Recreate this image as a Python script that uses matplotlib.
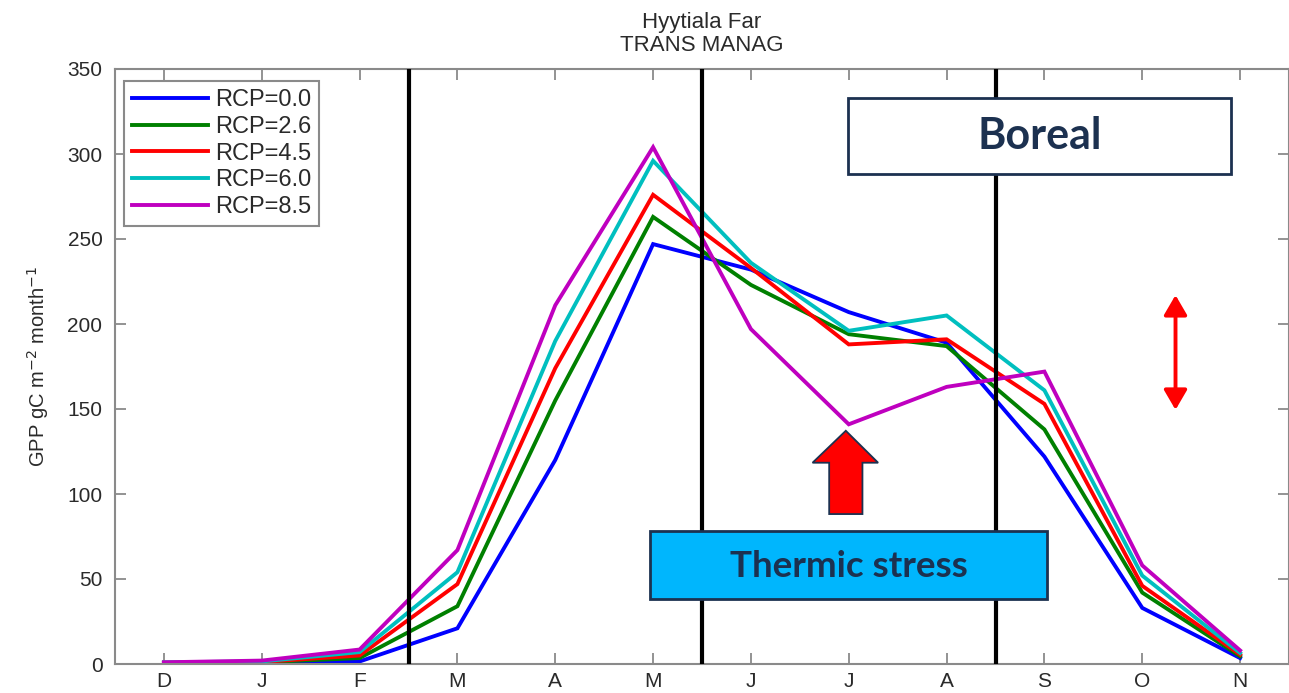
import matplotlib
matplotlib.use("Agg")
import matplotlib.pyplot as plt
from matplotlib.patches import Rectangle, Polygon, FancyArrowPatch

# Monthly GPP (gC m-2 month-1), hydrological year starting in December
months = ["D", "J", "F", "M", "A", "M", "J", "J", "A", "S", "O", "N"]
rcp_labels = ["RCP=0.0", "RCP=2.6", "RCP=4.5", "RCP=6.0", "RCP=8.5"]
gpp_rcp00 = [0.5, 0.5, 1.5, 21, 120, 247, 232, 207, 189, 122, 33, 3.5]
gpp_rcp26 = [0.5, 1.0, 3.5, 34, 155, 263, 223, 194, 187, 138, 42, 4.5]
gpp_rcp45 = [0.8, 1.2, 5.0, 47, 174, 276, 233, 188, 191, 153, 46, 5.5]
gpp_rcp60 = [1.0, 1.5, 7.0, 54, 190, 296, 236, 196, 205, 161, 52, 6.5]
gpp_rcp85 = [1.0, 2.0, 8.5, 67, 211, 304, 197, 141, 163, 172, 58, 8.0]
season_bounds = [3.5, 6.5, 9.5]

series = [gpp_rcp00, gpp_rcp26, gpp_rcp45, gpp_rcp60, gpp_rcp85]
colors = ["#0000ff", "#008000", "#ff0000", "#00bfbf", "#bf00bf"]

plt.rcParams["font.family"] = ["Liberation Sans", "DejaVu Sans"]
text_col = "#2a2a2a"
axis_col = "#8a8a8a"
navy = "#1c3150"

fig = plt.figure(figsize=(12.89, 6.93), dpi=100)
ax = fig.add_axes([115 / 1289, 29 / 693, (1289 - 115) / 1289, 595 / 693])

x = list(range(1, len(months) + 1))
for vals, c, lab in zip(series, colors, rcp_labels):
    ax.plot(x, vals, color=c, lw=2.8, label=lab, solid_joinstyle="miter")

for xb in season_bounds:
    ax.axvline(xb, color="black", lw=3.0, zorder=3)

ax.set_xlim(0.5, 12.5)
ax.set_ylim(0, 350)
ax.set_xticks(x)
ax.set_xticklabels(months)
ax.set_yticks(range(0, 351, 50))

for s in ax.spines.values():
    s.set_color(axis_col)
    s.set_linewidth(1.5)
ax.tick_params(axis="both", direction="in", length=8, width=1.3, color=axis_col,
               labelsize=15, labelcolor=text_col, top=True, right=True)
ax.tick_params(axis="x", pad=6)
ax.tick_params(axis="y", pad=9)

ax.set_ylabel(r"GPP gC m$^{-2}$ month$^{-1}$", fontsize=14.5, color=text_col, labelpad=12)
ax.set_title("Hyytiala Far\nTRANS MANAG", fontsize=16, color=text_col, pad=13,
             linespacing=1.15)

leg = ax.legend(loc="upper left", bbox_to_anchor=(0.0077, 0.98), borderaxespad=0,
                fontsize=17, handlelength=3.2, handletextpad=0.3, labelspacing=0.2,
                borderpad=0.35, fancybox=False, framealpha=1, edgecolor=axis_col)
leg.get_frame().set_linewidth(1.5)
for t in leg.get_texts():
    t.set_color(text_col)

# "Boreal" label box
ax.add_patch(Rectangle((7.99, 288), 3.92, 45, facecolor="white", edgecolor=navy,
                       lw=2.0, zorder=5))
ax.text(9.95, 310.5, "Boreal", fontsize=31, fontweight="bold", color=navy,
        family=["Lato", "DejaVu Sans"], ha="center", va="center", zorder=6)

# "Thermic stress" label box
ax.add_patch(Rectangle((5.965, 38.2), 4.065, 40, facecolor="#00b6fd", edgecolor=navy,
                       lw=2.0, zorder=5))
ax.text(8.0, 57.5, "Thermic stress", fontsize=26.5, fontweight="bold", color=navy,
        family=["Lato", "DejaVu Sans"], ha="center", va="center", zorder=6)

# Red block arrow pointing at the July dip
arrow_pts = [(7.80, 88.2), (8.14, 88.2), (8.14, 118.4), (8.30, 118.4),
             (7.97, 137.2), (7.63, 118.4), (7.80, 118.4)]
ax.add_patch(Polygon(arrow_pts, closed=True, facecolor="#ff0000", edgecolor=navy,
                     lw=1.3, zorder=5))

# Double-headed red arrow showing the spread
ax.add_patch(FancyArrowPatch((11.34, 149.5), (11.34, 217),
                             arrowstyle="<|-|>,head_length=0.6,head_width=0.35",
                             mutation_scale=20, color="#ff0000", lw=2.8,
                             shrinkA=0, shrinkB=0, zorder=5))

fig.savefig("out.png", dpi=100)
